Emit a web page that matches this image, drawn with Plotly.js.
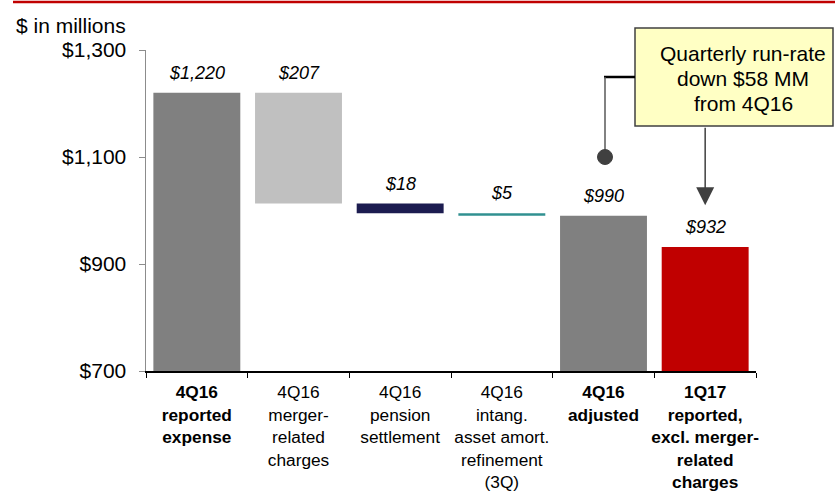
<!DOCTYPE html>
<html>
<head>
<meta charset="utf-8">
<script src="https://cdn.plot.ly/plotly-3.0.1.min.js"></script>
<style>
  html, body { margin: 0; padding: 0; background: #fff; }
  #chart { width: 835px; height: 493px; }
</style>
</head>
<body>
<div id="chart"></div>
<script>
// Category labels (bold ones are the totals)
const categories = [
    '<b>4Q16<br>reported<br>expense</b>',
    '4Q16<br>merger-<br>related<br>charges',
    '4Q16<br>pension<br>settlement',
    '4Q16<br>intang.<br>asset amort.<br>refinement<br>(3Q)',
    '<b>4Q16<br>adjusted</b>',
    '<b>1Q17<br>reported,<br>excl. merger-<br>related<br>charges</b>'
];

// Values in $ millions; steps are reductions from the previous total
const values = [1220, 207, 18, 5, 990, 932];
const isStep = [false, true, true, true, false, false];

// Bar colours
const barColors = ['#808080', '#c0c0c0', '#1c1c50', '#319090', '#808080', '#c00000'];

// Y axis ticks
const yTicks = [700, 900, 1100, 1300];

// Callout lines
const calloutLines = ['Quarterly run-rate', 'down $58 MM', 'from 4Q16'];

// Build bases and heights for the floating bars
var bases = [];
var heights = [];
var tops = [];
var running = 0;
for (let i = 0; i < values.length; i++) {
    if (isStep[i]) {
        running -= values[i];
        bases.push(running);
        heights.push(values[i]);
        tops.push(running + values[i]);
    } else {
        running = values[i];
        bases.push(0);
        heights.push(values[i]);
        tops.push(values[i]);
    }
}

var trace = {
    x: categories,
    y: heights,
    base: bases,
    type: 'bar',
    marker: { color: barColors, line: { width: 0 } },
    hoverinfo: 'none'
};

// Value labels above each bar
var annotations = [];
for (let i = 0; i < values.length; i++) {
    annotations.push({
        x: categories[i],
        y: tops[i],
        yanchor: 'bottom',
        yshift: 8,
        text: '<i>$' + values[i].toLocaleString('en-US') + '</i>',
        showarrow: false,
        font: { size: 18, color: '#000' }
    });
}

// Plot area: x 146..756, y 50..371 in pixels
function px(x) { return (x - 146) / 610; }
function py(y) { return (371 - y) / 321; }

annotations.push({
    xref: 'paper', yref: 'paper',
    x: px(14), y: py(26),
    xanchor: 'left', yanchor: 'middle',
    text: '$ in millions',
    showarrow: false,
    font: { size: 21, color: '#000' }
});

// Callout text, one line per annotation to keep the tight line spacing
for (let i = 0; i < calloutLines.length; i++) {
    annotations.push({
        xref: 'paper', yref: 'paper',
        x: px(743), y: py(53 + 25 * i),
        xanchor: 'center', yanchor: 'middle',
        text: calloutLines[i],
        showarrow: false,
        font: { size: 21, color: '#000' }
    });
}

// Arrow from the callout down towards the 1Q17 bar
annotations.push({
    x: categories[5],
    y: 1010,
    ax: 0,
    ay: -79,
    text: '',
    showarrow: true,
    arrowhead: 2,
    arrowsize: 2.4,
    arrowwidth: 1.5,
    arrowcolor: '#404040'
});

var shapes = [
    // red rule at top
    { type: 'line', xref: 'paper', yref: 'paper', x0: px(13), x1: px(835), y0: py(2), y1: py(2),
      line: { color: '#c00000', width: 2.5 } },
    // callout box
    { type: 'rect', xref: 'paper', yref: 'paper', x0: px(635), x1: px(833), y0: py(28), y1: py(126),
      fillcolor: '#ffffc4', line: { color: '#404040', width: 1.5 } },
    // connector from box to 4Q16 adjusted
    { type: 'line', xref: 'paper', yref: 'paper', x0: px(604), x1: px(635), y0: py(77), y1: py(77),
      line: { color: '#000', width: 2.5 } },
    { type: 'line', xref: 'paper', yref: 'paper', x0: px(605), x1: px(605), y0: py(77), y1: py(152),
      line: { color: '#595959', width: 1.5 } },
    { type: 'circle', xref: 'paper', yref: 'paper', x0: px(605) - 7.5 / 610, x1: px(605) + 7.5 / 610,
      y0: py(157) - 7.5 / 321, y1: py(157) + 7.5 / 321,
      fillcolor: '#404040', line: { color: '#404040', width: 1 } }
];

var layout = {
    width: 835,
    height: 493,
    margin: { l: 146, r: 79, t: 50, b: 122 },
    paper_bgcolor: '#fff',
    plot_bgcolor: '#fff',
    font: { family: 'Arial, "Liberation Sans", sans-serif', color: '#000' },
    showlegend: false,
    bargap: 0.145,
    xaxis: {
        type: 'category',
        range: [-0.5, 5.5],
        showgrid: false,
        zeroline: false,
        showline: true,
        linecolor: '#000',
        linewidth: 1.5,
        ticks: 'outside',
        tickson: 'boundaries',
        ticklen: 5,
        tickcolor: '#000',
        tickangle: 0,
        ticklabelstandoff: 5,
        automargin: false,
        tickfont: { size: 17.3, color: '#000' },
        fixedrange: true
    },
    yaxis: {
        range: [700, 1300],
        tickvals: yTicks,
        ticktext: yTicks.map(v => '$' + v.toLocaleString('en-US')),
        showgrid: false,
        zeroline: false,
        showline: true,
        linecolor: '#8c8c8c',
        linewidth: 1.5,
        ticks: 'outside',
        ticklen: 6,
        tickcolor: '#8c8c8c',
        ticklabelstandoff: 8,
        automargin: false,
        tickfont: { size: 21, color: '#000' },
        fixedrange: true
    },
    annotations: annotations,
    shapes: shapes
};

Plotly.newPlot('chart', [trace], layout, { displayModeBar: false, staticPlot: true });
</script>
</body>
</html>
